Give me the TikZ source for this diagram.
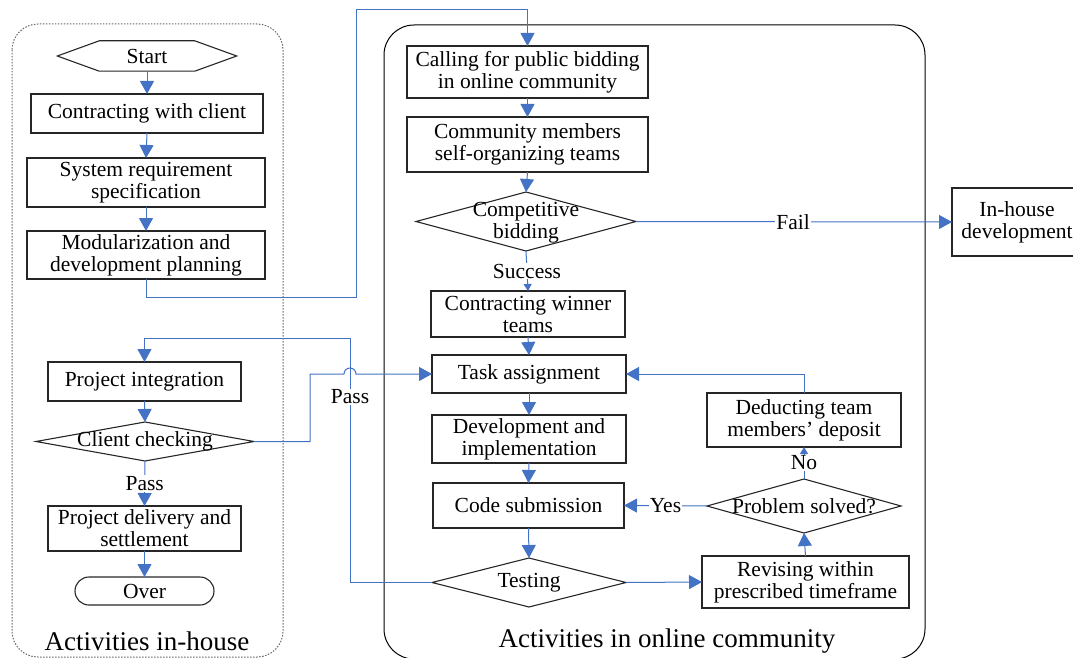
\documentclass[tikz,border=0pt]{standalone}
\usepackage{fontspec}
\setmainfont{Liberation Serif}
\usetikzlibrary{arrows.meta,shapes.geometric,calc}
\definecolor{conn}{HTML}{4472C4}
\begin{document}
\begin{tikzpicture}[x=1pt,y=-1pt,
  font=\fontsize{21.5}{22}\selectfont,
  box/.style={draw=black!85, line width=1.1pt, inner sep=0pt, outer sep=0pt, align=center},
  dia/.style={draw=black!85, line width=1.1pt, shape=diamond, inner sep=0pt, outer sep=0pt},
  txt/.style={inner sep=0pt, align=center},
  arr/.style={draw=conn, line width=1pt, -{Triangle[length=13pt,width=14pt]}},
  arrs/.style={draw=conn, line width=1pt, -{Triangle[length=7pt,width=8pt]}},
  lbl/.style={fill=white, inner sep=1pt, text=black},
  title/.style={font=\fontsize{27}{29}\selectfont}]
\useasboundingbox (0,0) rectangle (1073,658);
% containers
\draw[gray!80!black, line width=1pt, dash pattern=on 1.5pt off 1.5pt, rounded corners=26pt] (12,24) rectangle (283,657);
\draw[black, line width=1pt, rounded corners=30pt] (384,25) rectangle (925,659);
\node[title] (tl) at (147,641) {Activities in-house};
\node[title] (tr) at (667,641) {Activities in online community};
% left column
\node[txt, minimum width=179pt, minimum height=30pt] (start) at (147,56) {Start};
\draw[black!85, line width=1.1pt] (start.west) -- ([xshift=42pt]start.north west) -- ([xshift=-42pt]start.north east) -- (start.east) -- ([xshift=-42pt]start.south east) -- ([xshift=42pt]start.south west) -- cycle;
\node[box, minimum width=232pt, minimum height=39pt] (c1) at (147,113.5) {Contracting with client};
\node[box, minimum width=238pt, minimum height=49pt] (sysreq) at (146,182.5) {System requirement\\specification};
\node[box, minimum width=238pt, minimum height=48pt] (modul) at (146,255) {Modularization and\\development planning};
\node[box, minimum width=193pt, minimum height=39pt] (proj) at (144.5,381.5) {Project integration};
\node[dia, minimum width=218pt, minimum height=39pt] (client) at (145,441.5) {};
\node[txt] (clientt) at (client) {Client checking};
\node[box, minimum width=193pt, minimum height=45pt] (deliv) at (144.5,528.5) {Project delivery and\\settlement};
\node[box, rounded corners=14pt, minimum width=139pt, minimum height=28pt] (over) at (144.5,591) {Over};
% right column
\node[box, minimum width=241pt, minimum height=52pt] (call) at (527.5,72) {Calling for public bidding\\in online community};
\node[box, minimum width=241pt, minimum height=55pt] (comm) at (527.5,144.5) {Community members\\self-organizing teams};
\node[dia, minimum width=220pt, minimum height=59pt] (bid) at (526,221.5) {};
\node[txt] (bidt) at (526,223) {Competitive\\bidding};
\node[box, minimum width=194pt, minimum height=46pt] (win) at (528,314) {Contracting winner\\teams};
\node[box, minimum width=194pt, minimum height=38pt] (task) at (529,374) {Task assignment};
\node[box, minimum width=194pt, minimum height=48pt] (dev) at (529,439) {Development and\\implementation};
\node[box, minimum width=191pt, minimum height=45pt] (code) at (528.5,505.5) {Code submission};
\node[dia, minimum width=194pt, minimum height=49pt] (test) at (529,582.5) {};
\node[txt] (testt) at (test) {Testing};
\node[box, minimum width=207pt, minimum height=52pt] (rev) at (805.5,582) {Revising within\\prescribed timeframe};
\node[dia, minimum width=194pt, minimum height=54pt] (prob) at (804,506) {};
\node[txt] (probt) at (prob) {Problem solved?};
\node[box, minimum width=194pt, minimum height=54pt] (ded) at (804,420) {Deducting team\\members' deposit};
\node[box, minimum width=130pt, minimum height=68pt] (inh) at (1017,222) {In-house\\development};
% connectors left
\draw[arr] (start.south) -- (c1.north);
\draw[arr] (c1.south) -- (sysreq.north);
\draw[arr] (sysreq.south) -- (modul.north);
\draw[arr] (modul.south) -- ++(0,18) -| (356,10) -| (call.north);
\draw[arr] (proj.south) -- (client.north);
\draw[arr] (client.south) -- node[lbl] {Pass} (deliv.north);
\draw[arr] (deliv.south) -- (over.north);
% connectors right
\draw[arr] (call.south) -- (comm.north);
\draw[arr] (comm.south) -- (bid.north);
\draw[arrs] (bid.south) -- node[lbl] {Success} (win.north);
\draw[arr] (bid.east) -- node[lbl, pos=0.497] {Fail} (inh.west);
\draw[arr] (win.south) -- (task.north);
\draw[arr] (task.south) -- (dev.north);
\draw[arr] (dev.south) -- (code.north);
\draw[arr] (code.south) -- (test.north);
\draw[arr] (test.east) -- (rev.west);
\draw[arr] (rev.north) -- (prob.south);
\draw[arr] (prob.west) -- node[lbl] {Yes} (code.east);
\draw[arrs] (prob.north) -- node[lbl] {No} (ded.south);
\draw[arr] (ded.north) |- (task.east);
% loops
\draw[arr] (test.west) -- (350,582.5) -- node[lbl, pos=0.76] {Pass} (350,338) -| (proj.north);
\draw[arr] (client.east) -| (310,374) -- (344,374) arc (180:360:6) -- (task.west);
\end{tikzpicture}
\end{document}
